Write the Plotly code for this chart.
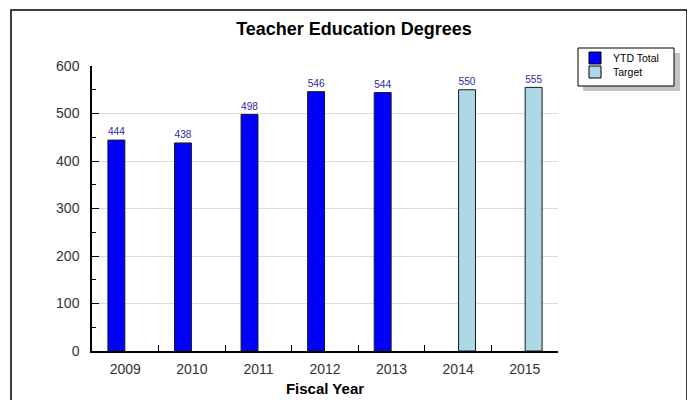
import plotly.graph_objects as go

# ---- data ----
categories = ["2009", "2010", "2011", "2012", "2013", "2014", "2015"]
ytd_total = [444, 438, 498, 546, 544, None, None]
target = [None, None, None, None, None, 550, 555]
series_names = ["YTD Total", "Target"]
series_colors = ["#0000FF", "#ADD8E6"]
title_text = "Teacher Education Degrees"
x_title = "Fiscal Year"

FONT = "Liberation Sans, Arial, sans-serif"
OFF = 8  # page body margin
W, H = 695 - OFF, 400 - OFF
# plot area in reference (window) pixels
RL, RT, RR, RB = 92, 66, 558, 351
L, T, R, B = RL - OFF, RT - OFF, RR - OFF, RB - OFF


def fx(px):  # reference window pixel -> paper x
    return (px - RL) / (RR - RL)


def fy(py):  # reference window pixel -> paper y
    return (RB - py) / (RB - RT)


fig = go.Figure()
for name, vals, col in zip(series_names, [ytd_total, target], series_colors):
    fig.add_trace(go.Bar(
        x=categories, y=vals, name=name,
        marker=dict(color=col, line=dict(color="#1a1a1a", width=1)),
        text=[("" if v is None else str(v)) for v in vals],
        textposition="outside",
        textfont=dict(family=FONT, size=11, color="#2a2a9c"),
        cliponaxis=False,
        showlegend=False,
    ))

shapes = []
# outer frame shadow + frame
shapes.append(dict(type="rect", xref="paper", yref="paper",
                   x0=fx(688.5), x1=fx(700), y0=fy(420), y1=fy(18),
                   fillcolor="#5a5a5a", line=dict(width=0), layer="below"))
shapes.append(dict(type="rect", xref="paper", yref="paper",
                   x0=fx(11), x1=fx(687), y0=fy(420), y1=fy(10),
                   fillcolor="rgba(0,0,0,0)", line=dict(color="black", width=1.5),
                   layer="below"))
# legend box shadow + box
shapes.append(dict(type="rect", xref="paper", yref="paper",
                   x0=fx(583), x1=fx(680), y0=fy(91), y1=fy(53),
                   fillcolor="#c4c4c4", line=dict(width=0), layer="above"))
shapes.append(dict(type="rect", xref="paper", yref="paper",
                   x0=fx(578), x1=fx(674), y0=fy(86), y1=fy(48),
                   fillcolor="white", line=dict(color="black", width=1), layer="above"))

annotations = []
for i, (name, col) in enumerate(zip(series_names, series_colors)):
    cy = 58 + 14 * i
    shapes.append(dict(type="rect", xref="paper", yref="paper",
                       x0=fx(589), x1=fx(601), y0=fy(cy + 6), y1=fy(cy - 6),
                       fillcolor=col, line=dict(color="black", width=1), layer="above"))
    annotations.append(dict(xref="paper", yref="paper", x=fx(611), y=fy(cy),
                            xanchor="left", yanchor="middle", showarrow=False,
                            text=name, font=dict(family=FONT, size=10.5, color="black")))

fig.update_layout(
    width=W, height=H,
    margin=dict(l=L, r=W - R, t=T, b=H - B, pad=0, autoexpand=False),
    paper_bgcolor="white", plot_bgcolor="white",
    barmode="group", bargap=0.465, bargroupgap=0.05,
    title=dict(text="<b>" + title_text + "</b>", x=(354 - OFF) / W, xanchor="center",
               y=1 - (29 - OFF) / H, yanchor="middle",
               font=dict(family=FONT, size=18, color="black")),
    shapes=shapes, annotations=annotations,
    showlegend=False,
)
fig.update_xaxes(
    type="category", tickson="boundaries", ticks="inside", ticklen=6,
    tickcolor="black", showline=True, linecolor="black", linewidth=1.5,
    showgrid=False, tickfont=dict(family=FONT, size=14, color="#333333"),
    title=dict(text="<b>" + x_title + "</b>", font=dict(family=FONT, size=15, color="black"),
               standoff=8),
    ticklabelstandoff=4, automargin=False,
)
fig.update_yaxes(
    range=[0, 600], dtick=100, ticks="inside", ticklen=7, tickcolor="black",
    showline=True, linecolor="black", linewidth=1.5,
    showgrid=True, gridcolor="#dcdcdc", gridwidth=1, zeroline=False,
    tickfont=dict(family=FONT, size=14, color="#333333"),
    minor=dict(dtick=50, ticks="inside", ticklen=4, tickcolor="black", showgrid=False),
    ticklabelstandoff=8, automargin=False,
)

fig.write_html("out.html")
